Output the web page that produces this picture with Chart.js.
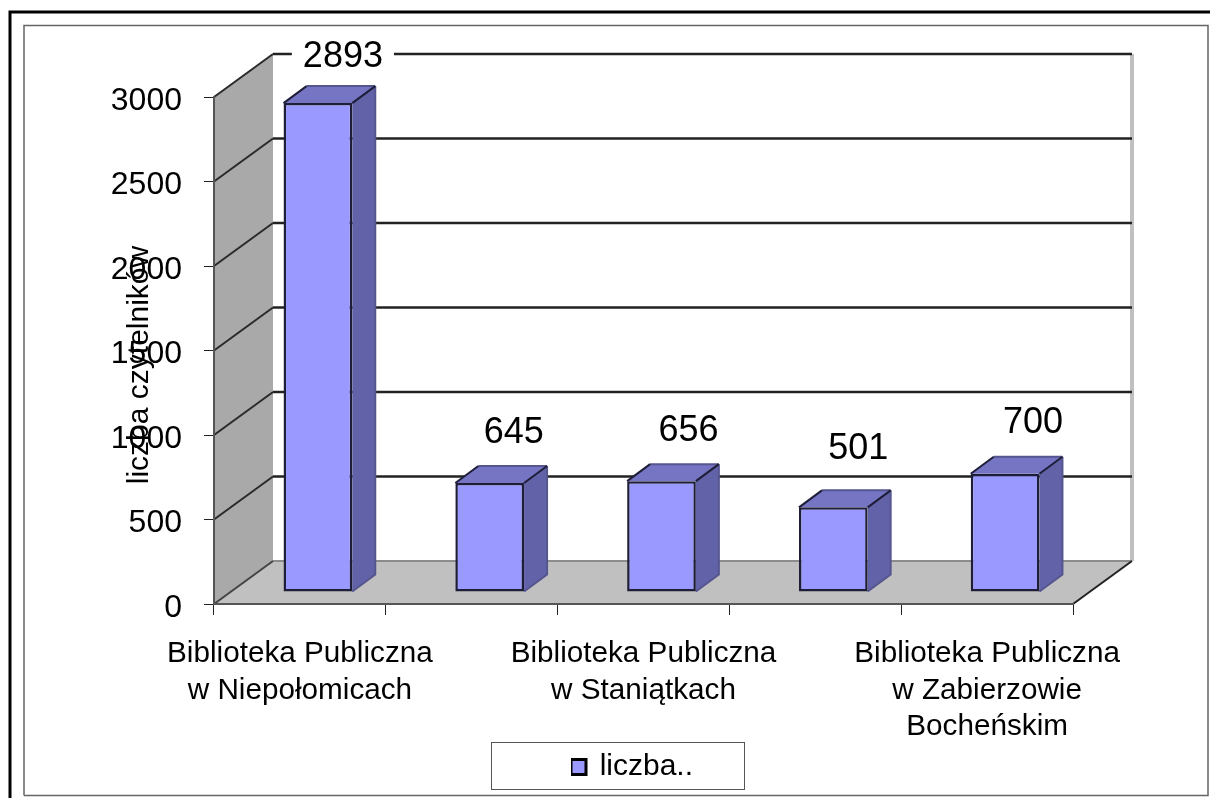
<!DOCTYPE html>
<html lang="pl">
<head>
<meta charset="utf-8">
<style>html,body{margin:0;padding:0;background:#fff}canvas{display:block}</style>
<script src="https://cdn.jsdelivr.net/npm/chart.js@4"></script>
</head>
<body>
<canvas id="c" width="1210" height="798"></canvas>
<script>
const categories = [
  ['Biblioteka Publiczna', 'w Niepołomicach'],
  '',
  ['Biblioteka Publiczna', 'w Staniątkach'],
  '',
  ['Biblioteka Publiczna', 'w Zabierzowie', 'Bocheńskim']
];
const values = [2893, 645, 656, 501, 700];
const seriesName = 'liczba..';
const yTitle = 'liczba czytelników';
const yMax = 3000;
const yStep = 500;

const FONT = '"Liberation Sans", Arial, sans-serif';
const FRONT = '#9999ff', TOP = '#7575c4', SIDE = '#6262a8', EDGE = '#1e1e38', SOFT = '#55558f';
const WALL = {dx: 59, dy: -43};      // depth of the 3D box
const BAR = {dx: 18, dy: -12, depthX: 23, depthY: -17};
const labelShift = [[25, -46], [24, -50], [27, -50], [25, -58], [28, -51]];

function line(ctx, pts, color, w) {
  ctx.beginPath();
  pts.forEach((p, i) => i ? ctx.lineTo(p[0], p[1]) : ctx.moveTo(p[0], p[1]));
  ctx.strokeStyle = color; ctx.lineWidth = w; ctx.stroke();
}
function poly(ctx, pts, fill) {
  ctx.beginPath();
  pts.forEach((p, i) => i ? ctx.lineTo(p[0], p[1]) : ctx.moveTo(p[0], p[1]));
  ctx.closePath(); ctx.fillStyle = fill; ctx.fill();
}

const scene3d = {
  id: 'scene3d',
  afterLayout(chart) {
    const lg = chart.legend;
    lg.left = 571; lg.right = 693; lg.top = 752; lg.bottom = 789;
  },
  beforeDraw(chart) {
    const ctx = chart.ctx, y = chart.scales.y, x = chart.scales.x;
    const l = x.left, r = x.right, y0 = y.getPixelForValue(0), yT = y.getPixelForValue(yMax);
    const {dx, dy} = WALL;
    ctx.save();
    ctx.fillStyle = '#fff'; ctx.fillRect(0, 0, chart.width, chart.height);
    // frames
    line(ctx, [[10, 798], [10, 12], [1210, 12]], '#000', 3);
    line(ctx, [[24, 795.5], [24, 25.5], [1208, 25.5], [1208, 795.5], [24, 795.5]], '#666', 1.5);
    // walls and floor
    poly(ctx, [[l, yT], [l + dx, yT + dy], [l + dx, y0 + dy], [l, y0]], '#a9a9a9');
    poly(ctx, [[l, y0], [l + dx, y0 + dy], [r + dx, y0 + dy], [r, y0]], '#c0c0c0');
    line(ctx, [[r + dx, yT + dy], [r + dx, y0 + dy]], '#c0c0c0', 4);
    line(ctx, [[l + dx, y0 + dy], [r + dx, y0 + dy]], '#8c8c8c', 2);
    line(ctx, [[l, y0], [l + dx, y0 + dy]], '#444', 2);
    line(ctx, [[r, y0], [r + dx, y0 + dy]], '#222', 2);
    // gridlines on the walls
    y.ticks.forEach(t => {
      if (t.value === 0) return;
      const p = y.getPixelForValue(t.value);
      line(ctx, [[l, p], [l + dx, p + dy]], '#2a2a2a', 2);
      line(ctx, [[l + dx, p + dy], [r + dx, p + dy]], '#222', 2.5);
    });
    // legend frame
    ctx.fillStyle = '#fff';
    ctx.fillRect(491, 742, 253, 47);
    ctx.strokeStyle = '#555'; ctx.lineWidth = 1;
    ctx.strokeRect(491.5, 742.5, 253, 47);
    ctx.restore();
  },
  beforeDatasetDraw(chart) {
    const ctx = chart.ctx;
    ctx.save();
    ctx.translate(BAR.dx, BAR.dy);
    chart.getDatasetMeta(0).data.forEach(b => {
      const p = b.getProps(['x', 'y', 'base', 'width'], true);
      const L = p.x - p.width / 2, R = p.x + p.width / 2, T = p.y, B = p.base;
      const {depthX: ox, depthY: oy} = BAR;
      poly(ctx, [[L, T], [L + ox, T + oy], [R + ox, T + oy], [R, T]], TOP);
      poly(ctx, [[R, T], [R + ox, T + oy], [R + ox, B + oy], [R, B]], SIDE);
      line(ctx, [[L + ox, T + oy], [R + ox, T + oy]], SOFT, 2);
      line(ctx, [[R + ox, T + oy], [R + ox, B + oy], [R, B]], SOFT, 2);
      line(ctx, [[L, T], [L + ox, T + oy]], EDGE, 2);
      line(ctx, [[R, T], [R + ox, T + oy]], EDGE, 2);
    });
  },
  afterDatasetDraw(chart) {
    chart.ctx.restore();
  },
  afterDatasetsDraw(chart) {
    const ctx = chart.ctx;
    ctx.save();
    ctx.font = '36px ' + FONT;
    ctx.textAlign = 'center'; ctx.textBaseline = 'middle';
    chart.getDatasetMeta(0).data.forEach((b, i) => {
      const cx = b.x + BAR.dx + labelShift[i][0];
      const cy = b.y + BAR.dy + labelShift[i][1];
      const t = String(values[i]);
      const w = ctx.measureText(t).width + 22;
      ctx.fillStyle = '#fff';
      ctx.fillRect(cx - w / 2, cy - 28, w, 50);
      ctx.fillStyle = '#000';
      ctx.fillText(t, cx, cy);
    });
    // axis title, overlapping the tick labels as in the source chart
    ctx.font = '30px ' + FONT;
    ctx.textBaseline = 'alphabetic';
    ctx.translate(148, 365);
    ctx.rotate(-Math.PI / 2);
    ctx.fillText(yTitle, 0, 0);
    ctx.restore();
  }
};

new Chart(document.getElementById('c'), {
  type: 'bar',
  data: {
    labels: categories,
    datasets: [{
      label: seriesName,
      data: values,
      backgroundColor: FRONT,
      borderColor: EDGE,
      borderWidth: 2.5,
      borderSkipped: false,
      categoryPercentage: 1,
      barPercentage: 0.4
    }]
  },
  plugins: [scene3d],
  options: {
    responsive: false,
    animation: false,
    events: [],
    layout: {padding: {top: 97, right: 137, bottom: 0, left: 0}},
    plugins: {
      tooltip: {enabled: false},
      title: {display: false},
      legend: {
        display: true,
        position: 'chartArea',
        align: 'start',
        labels: {
          color: '#000',
          font: {family: FONT, size: 30},
          padding: 0,
          boxWidth: 15,
          boxHeight: 15,
          textAlign: 'right',
          generateLabels: () => [{
            text: seriesName, fillStyle: FRONT, strokeStyle: '#000', lineWidth: 3, hidden: false, datasetIndex: 0, textAlign: 'right'
          }]
        }
      }
    },
    scales: {
      x: {
        afterFit(s) { s.height = 194; },
        offset: true,
        border: {display: true, color: '#555', width: 2},
        grid: {drawOnChartArea: false, drawTicks: true, tickLength: 11, color: '#222', lineWidth: 1, offset: true},
        ticks: {
          autoSkip: false, maxRotation: 0, minRotation: 0, padding: 21,
          color: '#000',
          font: {family: FONT, size: 29.7, lineHeight: 1.22}
        }
      },
      y: {
        afterFit(s) { s.width = 214; },
        min: 0,
        max: yMax,
        border: {display: true, color: '#555', width: 2},
        grid: {drawOnChartArea: false, drawTicks: true, tickLength: 10, color: '#222', lineWidth: 1},
        ticks: {
          stepSize: yStep, padding: 22, color: '#000', labelOffset: 4,
          callback: v => String(v),
          font: {family: FONT, size: 32}
        }
      }
    }
  }
});
</script>
</body>
</html>
